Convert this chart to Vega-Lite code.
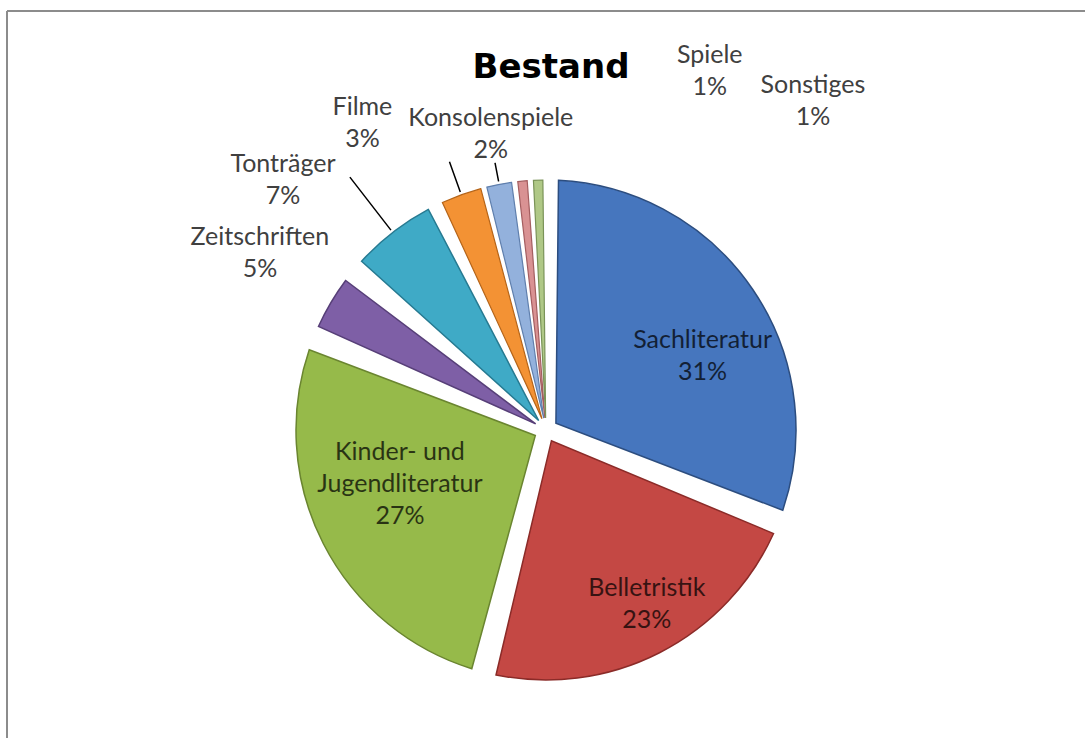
{
  "$schema": "https://vega.github.io/schema/vega-lite/v6.json",
  "autosize": "none",
  "padding": {"left": 7, "top": 11, "right": 0, "bottom": 0},
  "width": 1078,
  "height": 838,
  "background": "white",
  "view": {"stroke": "#8C8C8C", "strokeWidth": 2, "fill": "white", "strokeDash": [1078, 838, 1916, 0]},
  "title": {"text": "Bestand", "font": "DejaVu Sans", "fontSize": 34, "fontWeight": "bold", "color": "#000000", "anchor": "middle", "frame": "group", "baseline": "alphabetic", "offset": -66, "dx": 5, "dy": 35},
  "data": {"values": [
    {"cat": "Sachliteratur", "value": 31, "order": 1, "label": "Sachliteratur\n31%"},
    {"cat": "Belletristik", "value": 23, "order": 2, "label": "Belletristik\n23%"},
    {"cat": "Kinder- und Jugendliteratur", "value": 27, "order": 3, "label": "Kinder- und\nJugendliteratur\n27%"},
    {"cat": "Zeitschriften", "value": 5, "order": 4, "label": "Zeitschriften\n5%"},
    {"cat": "Tonträger", "value": 7, "order": 5, "label": "Tonträger\n7%"},
    {"cat": "Filme", "value": 3, "order": 6, "label": "Filme\n3%"},
    {"cat": "Konsolenspiele", "value": 2, "order": 7, "label": "Konsolenspiele\n2%"},
    {"cat": "Spiele", "value": 1, "order": 8, "label": "Spiele\n1%"},
    {"cat": "Sonstiges", "value": 1, "order": 9, "label": "Sonstiges\n1%"}
  ]},
  "encoding": {
    "theta": {"field": "value", "type": "quantitative", "stack": true},
    "order": {"field": "order", "type": "quantitative"}
  },
  "layer": [
    {
      "mark": {"type": "arc", "radius": 250, "radius2": 12, "padAngle": 0.1, "strokeWidth": 1.5},
      "encoding": {
        "color": {"field": "cat", "type": "nominal", "legend": null, "scale": {"domain": ["Sachliteratur", "Belletristik", "Kinder- und Jugendliteratur", "Zeitschriften", "Tonträger", "Filme", "Konsolenspiele", "Spiele", "Sonstiges"], "range": ["#4676BE", "#C44844", "#96BA4A", "#7E5FA6", "#3FAAC6", "#F39234", "#93B1DC", "#D99293", "#AFC886"]}},
        "stroke": {"field": "cat", "type": "nominal", "legend": null, "scale": {"domain": ["Sachliteratur", "Belletristik", "Kinder- und Jugendliteratur", "Zeitschriften", "Tonträger", "Filme", "Konsolenspiele", "Spiele", "Sonstiges"], "range": ["#2C4D7F", "#8B2B28", "#6A8530", "#573F78", "#267A91", "#B56418", "#5F7FAD", "#A45E60", "#7A9358"]}},
        "opacity": {"condition": {"test": "datum.value >= 5", "value": 1}, "value": 0}
      }
    },
    {
      "mark": {"type": "arc", "radius": 250, "radius2": 12, "padAngle": 0.025, "strokeWidth": 1.2},
      "encoding": {
        "color": {"field": "cat", "type": "nominal", "legend": null, "scale": {"domain": ["Sachliteratur", "Belletristik", "Kinder- und Jugendliteratur", "Zeitschriften", "Tonträger", "Filme", "Konsolenspiele", "Spiele", "Sonstiges"], "range": ["#4676BE", "#C44844", "#96BA4A", "#7E5FA6", "#3FAAC6", "#F39234", "#93B1DC", "#D99293", "#AFC886"]}},
        "stroke": {"field": "cat", "type": "nominal", "legend": null, "scale": {"domain": ["Sachliteratur", "Belletristik", "Kinder- und Jugendliteratur", "Zeitschriften", "Tonträger", "Filme", "Konsolenspiele", "Spiele", "Sonstiges"], "range": ["#2C4D7F", "#8B2B28", "#6A8530", "#573F78", "#267A91", "#B56418", "#5F7FAD", "#A45E60", "#7A9358"]}},
        "opacity": {"condition": {"test": "datum.value < 5", "value": 1}, "value": 0}
      }
    },
    {
      "mark": {"type": "arc", "radius": 320, "radius2": 253, "padAngle": 3, "filled": false, "stroke": "#000000", "strokeWidth": 1.5},
      "encoding": {"opacity": {"condition": {"test": "datum.cat === 'Tonträger'", "value": 1}, "value": 0}}
    },
    {
      "mark": {"type": "arc", "radius": 285, "radius2": 253, "padAngle": 3, "filled": false, "stroke": "#000000", "strokeWidth": 1.5},
      "encoding": {"opacity": {"condition": {"test": "datum.cat === 'Filme'", "value": 1}, "value": 0}}
    },
    {
      "mark": {"type": "arc", "radius": 272, "radius2": 253, "padAngle": 3, "filled": false, "stroke": "#000000", "strokeWidth": 1.5},
      "encoding": {"opacity": {"condition": {"test": "datum.cat === 'Konsolenspiele'", "value": 1}, "value": 0}}
    },
    {
      "mark": {"type": "text", "radius": 170, "dx": 16, "dy": 6, "font": "Lato", "fontSize": 25, "lineHeight": 32, "lineBreak": "\n", "align": "center", "baseline": "middle", "fill": "#000000", "opacity": 0.72},
      "encoding": {"text": {"condition": {"test": "datum.cat === 'Sachliteratur'", "field": "label"}, "value": ""}}
    },
    {
      "mark": {"type": "text", "radius": 200, "dx": 10, "dy": -20, "font": "Lato", "fontSize": 25, "lineHeight": 32, "lineBreak": "\n", "align": "center", "baseline": "middle", "fill": "#000000", "opacity": 0.72},
      "encoding": {"text": {"condition": {"test": "datum.cat === 'Belletristik'", "field": "label"}, "value": ""}}
    },
    {
      "mark": {"type": "text", "radius": 155, "dx": -8, "dy": -48, "font": "Lato", "fontSize": 25, "lineHeight": 32, "lineBreak": "\n", "align": "center", "baseline": "middle", "fill": "#000000", "opacity": 0.72},
      "encoding": {"text": {"condition": {"test": "datum.cat === 'Kinder- und Jugendliteratur'", "field": "label"}, "value": ""}}
    },
    {
      "mark": {"type": "text", "radius": 337, "dx": 4, "dy": -21, "font": "Lato", "fontSize": 25, "lineHeight": 32, "lineBreak": "\n", "align": "center", "baseline": "middle", "fill": "#404040"},
      "encoding": {"text": {"condition": {"test": "datum.cat === 'Zeitschriften'", "field": "label"}, "value": ""}}
    },
    {
      "mark": {"type": "text", "radius": 359, "dx": -43, "dy": 18, "font": "Lato", "fontSize": 25, "lineHeight": 32, "lineBreak": "\n", "align": "center", "baseline": "middle", "fill": "#404040"},
      "encoding": {"text": {"condition": {"test": "datum.cat === 'Tonträger'", "field": "label"}, "value": ""}}
    },
    {
      "mark": {"type": "text", "radius": 350, "dx": -65, "dy": 6, "font": "Lato", "fontSize": 25, "lineHeight": 32, "lineBreak": "\n", "align": "center", "baseline": "middle", "fill": "#404040"},
      "encoding": {"text": {"condition": {"test": "datum.cat === 'Filme'", "field": "label"}, "value": ""}}
    },
    {
      "mark": {"type": "text", "radius": 300, "dx": 1, "dy": -17, "font": "Lato", "fontSize": 25, "lineHeight": 32, "lineBreak": "\n", "align": "center", "baseline": "middle", "fill": "#404040"},
      "encoding": {"text": {"condition": {"test": "datum.cat === 'Konsolenspiele'", "field": "label"}, "value": ""}}
    },
    {
      "mark": {"type": "text", "radius": 343, "dx": 196, "dy": -34, "font": "Lato", "fontSize": 25, "lineHeight": 32, "lineBreak": "\n", "align": "center", "baseline": "middle", "fill": "#404040"},
      "encoding": {"text": {"condition": {"test": "datum.cat === 'Spiele'", "field": "label"}, "value": ""}}
    },
    {
      "mark": {"type": "text", "radius": 320, "dx": 277, "dy": -25, "font": "Lato", "fontSize": 25, "lineHeight": 32, "lineBreak": "\n", "align": "center", "baseline": "middle", "fill": "#404040"},
      "encoding": {"text": {"condition": {"test": "datum.cat === 'Sonstiges'", "field": "label"}, "value": ""}}
    }
  ],
  "config": {"view": {"stroke": "#8C8C8C", "strokeWidth": 2, "strokeDash": [1078, 838, 1916, 0]}}
}
